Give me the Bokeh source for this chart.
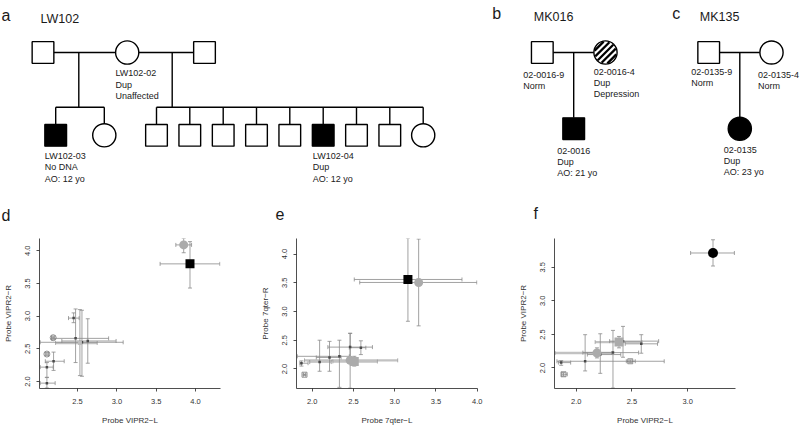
import math
from bokeh.plotting import figure
from bokeh.layouts import column, row
from bokeh.models import (Range1d, FixedTicker, PrintfTickFormatter, ColumnDataSource,
                          Whisker, TeeHead)
from bokeh.core.properties import value
from bokeh.embed import file_html
from bokeh.resources import INLINE

FONT = "Liberation Sans"

# ---------------- pedigree data (reference pixel coordinates) ----------------
ind_x = [42.5, 126.7, 204.0,
         55.2, 103.8,
         156.0, 189.3, 222.7, 256.0, 289.3, 322.7, 356.0, 389.3, 422.7,
         541.8, 605.0, 573.2,
         708.2, 771.0, 739.3]
ind_y = [52, 52, 52,
         134.8, 134.8,
         134.8, 134.8, 134.8, 134.8, 134.8, 134.8, 134.8, 134.8, 134.8,
         52, 52, 128.2,
         52, 52, 128.3]
ind_shape = ["square", "circle", "square",
             "square", "circle",
             "square", "square", "square", "square", "square", "square", "square", "square", "circle",
             "square", "circle", "square",
             "square", "circle", "circle"]
ind_fill = ["white", "white", "white",
            "black", "white",
            "white", "white", "white", "white", "white", "black", "white", "white", "white",
            "white", "hatch", "black",
            "white", "white", "black"]

# unions: (spouse1, spouse2, descent x, sibship y, children)
unions = [
    (0, 1, 78.3, 106.7, [3, 4]),
    (1, 2, 171.7, 106.7, [5, 6, 7, 8, 9, 10, 11, 12, 13]),
    (14, 15, 573.2, None, [16]),
    (17, 18, 739.3, None, [19]),
]

lbl_x = [115, 115, 115,
         44.3, 44.3, 44.3,
         312.3, 312.3, 312.3,
         522.7, 522.7,
         593.3, 593.3, 593.3,
         556.7, 556.7, 556.7,
         690.7, 690.7,
         757.5, 757.5,
         723.3, 723.3, 723.3]
lbl_y = [72.7, 84, 95,
         155.7, 166.7, 178.3,
         155.7, 166.7, 178.3,
         74, 85,
         71, 82.3, 93.3,
         150, 161.7, 172.7,
         71.7, 82.7,
         74, 85,
         149.3, 160.7, 171.7]
lbl_text = ["LW102-02", "Dup", "Unaffected",
            "LW102-03", "No DNA", "AO: 12 yo",
            "LW102-04", "Dup", "AO: 12 yo",
            "02-0016-9", "Norm",
            "02-0016-4", "Dup", "Depression",
            "02-0016", "Dup", "AO: 21 yo",
            "02-0135-9", "Norm",
            "02-0135-4", "Norm",
            "02-0135", "Dup", "AO: 23 yo"]

fam_x = [40, 533.3, 699.3]
fam_y = [18.3, 16.7, 16.7]
fam_text = ["LW102", "MK016", "MK135"]

letter_x = [1, 491.7, 671.7, 1, 275, 533]
letter_y = [15, 13.3, 13.3, 215, 213.3, 213.3]
letter_text = ["a", "b", "c", "d", "e", "f"]

SQ = 21.7      # square side
RAD = 11.6     # circle radius
LW = 1.4
TOP_H = 226

top = figure(width=800, height=TOP_H, x_range=Range1d(0, 800), y_range=Range1d(TOP_H, 0),
             output_backend="svg", toolbar_location=None, min_border=0,
             x_axis_location=None, y_axis_location=None)
top.xgrid.visible = False
top.ygrid.visible = False
top.outline_line_color = None

def half(i):
    return SQ / 2 if ind_shape[i] == "square" else RAD

# lines
sx0, sy0, sx1, sy1 = [], [], [], []
for a, b, dx, sib_y, kids in unions:
    left, right = (a, b) if ind_x[a] < ind_x[b] else (b, a)
    my = ind_y[a]
    sx0.append(ind_x[left] + half(left)); sx1.append(ind_x[right] - half(right))
    sy0.append(my); sy1.append(my)
    if sib_y is None:
        k = kids[0]
        sx0.append(dx); sx1.append(dx); sy0.append(my); sy1.append(ind_y[k] - half(k))
    else:
        sx0.append(dx); sx1.append(dx); sy0.append(my); sy1.append(sib_y)
        kx = [ind_x[k] for k in kids]
        sx0.append(min(kx)); sx1.append(max(kx)); sy0.append(sib_y); sy1.append(sib_y)
        for k in kids:
            sx0.append(ind_x[k]); sx1.append(ind_x[k]); sy0.append(sib_y); sy1.append(ind_y[k] - half(k))
top.segment(sx0, sy0, sx1, sy1, line_color="black", line_width=LW)

sq = [i for i in range(len(ind_x)) if ind_shape[i] == "square"]
ci = [i for i in range(len(ind_x)) if ind_shape[i] == "circle"]
top.rect([ind_x[i] for i in sq], [ind_y[i] for i in sq], width=SQ, height=SQ,
         fill_color=["black" if ind_fill[i] == "black" else "white" for i in sq],
         line_color="black", line_width=LW)
top.circle([ind_x[i] for i in ci], [ind_y[i] for i in ci], radius=RAD,
           fill_color=["black" if ind_fill[i] == "black" else "white" for i in ci],
           line_color="black", line_width=LW)

# hatching for striped circles
hx0, hy0, hx1, hy1 = [], [], [], []
for i in ci:
    if ind_fill[i] != "hatch":
        continue
    cx, cy = ind_x[i], ind_y[i]
    r = RAD - 0.6
    for s in (-9.0, -4.5, 0.0, 4.5, 9.0):
        if abs(s) >= r:
            continue
        h = math.sqrt(r * r - s * s)
        fx, fy = cx + s / math.sqrt(2), cy + s / math.sqrt(2)
        hx0.append(fx - h / math.sqrt(2)); hy0.append(fy + h / math.sqrt(2))
        hx1.append(fx + h / math.sqrt(2)); hy1.append(fy - h / math.sqrt(2))
top.segment(hx0, hy0, hx1, hy1, line_color="black", line_width=2.3)

top.text(lbl_x, lbl_y, text=lbl_text, text_font=value(FONT), text_font_size="9px",
         text_baseline="middle", text_align="left", text_color="#1a1a1a")
top.text(fam_x, fam_y, text=fam_text, text_font=value(FONT), text_font_size="12.5px",
         text_baseline="alphabetic", text_align="left", text_color="#1a1a1a")
top.text(letter_x, letter_y, text=letter_text, text_font=value(FONT), text_font_size="16px",
         text_baseline="alphabetic", text_align="left", text_color="#1a1a1a")

# ---------------- scatter data ----------------
# kinds: dot / osq / ocirc = ordinary samples; gcirc = gray circle (thin bars);
# gcircB / gsqB / gdotB = gray samples with broad horizontal bars; bsq / bcirc = probands
d_kind = ["gcirc", "bsq", "dot", "gdotB", "dot", "dot", "dot", "ocirc", "ocirc", "dot", "dot", "dot"]
d_x   = [3.85, 3.93, 2.45, 2.53, 2.556, 2.63, 2.475, 2.19, 2.11, 2.195, 2.11, 2.11]
d_y   = [4.09, 3.80, 2.97, 2.59, 2.60, 2.62, 2.66, 2.67, 2.42, 2.31, 2.22, 1.975]
d_xlo = [3.75, 3.55, 2.385, 2.22, 2.025, 2.30, 2.17, 2.17, 2.09, 2.09, 2.025, 2.025]
d_xhi = [3.95, 4.31, 2.52, 2.75, 3.08, 2.99, 2.895, 2.21, 2.13, 2.33, 2.19, 2.215]
d_ylo = [3.97, 3.43, 2.90, 2.09, 2.08, 2.28, 2.29, 2.645, 2.395, 2.17, 2.065, 1.90]
d_yhi = [4.19, 4.14, 3.05, 3.10, 3.09, 2.96, 3.11, 2.695, 2.445, 2.45, 2.29, 2.06]

e_kind = ["bsq", "gcirc", "gcircB", "gsqB", "dot", "dot", "dot", "dot", "dot", "osq", "dot"]
e_x   = [3.16, 3.29, 2.46, 2.51, 2.33, 2.09, 2.21, 2.46, 2.59, 1.907, 1.87]
e_y   = [3.557, 3.505, 2.15, 2.13, 2.22, 2.12, 2.20, 2.38, 2.37, 1.90, 2.10]
e_xlo = [2.51, 2.576, 1.907, 2.25, 1.82, 1.97, 2.05, 2.19, 2.45, 1.895, 1.85]
e_xhi = [3.815, 3.995, 3.036, 2.79, 2.45, 2.23, 2.35, 2.73, 2.65, 1.92, 1.95]
e_ylo = [2.83, 2.75, 1.665, 2.05, 1.68, 1.96, 1.96, 2.21, 2.25, 1.89, 2.05]
e_yhi = [4.276, 4.26, 2.62, 2.22, 2.50, 2.50, 2.48, 2.62, 2.49, 1.91, 2.14]

f_kind = ["bcirc", "gsqB", "gcircB", "dot", "dot", "dot", "osq", "osq", "dot", "dot", "dot"]
f_x   = [3.228, 2.384, 2.186, 2.33, 2.08, 2.584, 2.485, 1.886, 1.865, 2.216, 2.42]
f_y   = [3.714, 2.386, 2.223, 2.229, 2.10, 2.36, 2.10, 1.906, 2.08, 2.20, 2.40]
f_xlo = [3.027, 2.17, 1.81, 2.06, 1.827, 2.44, 2.45, 1.87, 1.84, 2.10, 2.30]
f_xhi = [3.42, 2.59, 2.32, 2.56, 2.79, 2.73, 2.53, 1.92, 1.95, 2.40, 2.74]
f_ylo = [3.52, 2.30, 2.15, 1.70, 1.956, 2.22, 2.08, 1.88, 2.04, 1.92, 2.16]
f_yhi = [3.911, 2.47, 2.30, 2.56, 2.496, 2.496, 2.12, 1.93, 2.11, 2.51, 2.62]

BROAD_KINDS = ("gcircB", "gsqB", "gdotB")
BOT_H = 427 - TOP_H

def sub(idx, *cols):
    return [[c[i] for i in idx] for c in cols]

def make_panel(width, bl, br, xr, yr, xt, yt, xlab, ylab,
               kind, x, y, xlo, xhi, ylo, yhi):
    p = figure(width=width, height=BOT_H, x_range=Range1d(*xr), y_range=Range1d(*yr),
               output_backend="svg", toolbar_location=None,
               min_border_left=bl, min_border_right=br, min_border_top=12, min_border_bottom=39)
    p.xgrid.visible = False
    p.ygrid.visible = False
    p.outline_line_color = None
    p.xaxis.ticker = FixedTicker(ticks=xt)
    p.yaxis.ticker = FixedTicker(ticks=yt)
    for ax in (p.xaxis[0], p.yaxis[0]):
        ax.formatter = PrintfTickFormatter(format="%.1f")
        ax.axis_line_color = "#222222"
        ax.axis_line_width = 0.8
        ax.major_tick_line_color = "#222222"
        ax.major_tick_line_width = 0.8
        ax.major_tick_in = 0
        ax.major_tick_out = 3
        ax.minor_tick_line_color = None
        ax.major_label_text_font = FONT
        ax.major_label_text_font_size = "7.5px"
        ax.major_label_text_color = "#333333"
        ax.axis_label_text_font = FONT
        ax.axis_label_text_font_size = "8px"
        ax.axis_label_text_font_style = "normal"
        ax.axis_label_text_color = "#333333"
    p.xaxis.axis_label = xlab
    p.yaxis.axis_label = ylab
    p.xaxis.major_label_standoff = 7
    p.xaxis.axis_label_standoff = 9
    p.yaxis.major_label_standoff = 6
    p.yaxis.axis_label_standoff = 10
    p.yaxis.major_label_orientation = "vertical"

    n = len(x)
    broad = [i for i in range(n) if kind[i] in BROAD_KINDS]
    allidx = list(range(n))
    thin_h = [i for i in range(n) if kind[i] not in BROAD_KINDS]

    def head(col, lw):
        return TeeHead(size=4, line_color=col, line_width=lw)

    gx, gy, gxlo, gxhi = sub(broad, x, y, xlo, xhi)
    gsrc = ColumnDataSource(dict(x=gx, y=gy, xlo=gxlo, xhi=gxhi))
    p.add_layout(Whisker(source=gsrc, base="y", lower="xlo", upper="xhi", dimension="width",
                         line_color="#c2c2c2", line_width=2.4, level="underlay",
                         upper_head=head("#9a9a9a", 0.8), lower_head=head("#9a9a9a", 0.8)))

    hx, hy, hxlo, hxhi = sub(thin_h, x, y, xlo, xhi)
    hsrc = ColumnDataSource(dict(x=hx, y=hy, xlo=hxlo, xhi=hxhi))
    p.add_layout(Whisker(source=hsrc, base="y", lower="xlo", upper="xhi", dimension="width",
                         line_color="#8a8a8a", line_width=0.8, level="underlay",
                         upper_head=head("#8a8a8a", 0.8), lower_head=head("#8a8a8a", 0.8)))
    vx, vy, vylo, vyhi = sub(allidx, x, y, ylo, yhi)
    vsrc = ColumnDataSource(dict(x=vx, y=vy, ylo=vylo, yhi=vyhi))
    p.add_layout(Whisker(source=vsrc, base="x", lower="ylo", upper="yhi", dimension="height",
                         line_color="#8a8a8a", line_width=0.8, level="underlay",
                         upper_head=head("#8a8a8a", 0.8), lower_head=head("#8a8a8a", 0.8)))

    styles = {
        "dot":    dict(marker="square", size=2.5, fill_color="#4a4a4a", line_color=None),
        "osq":    dict(marker="square", size=5, fill_color=None, line_color="#777777", line_width=0.8),
        "ocirc":  dict(marker="circle", size=6, fill_color=None, line_color="#777777", line_width=0.8),
        "gdotB":  dict(marker="square", size=4, fill_color="#bdbdbd", line_color=None),
        "gcirc":  dict(marker="circle", size=9, fill_color="#ababab", line_color=None),
        "gcircB": dict(marker="circle", size=9, fill_color="#ababab", line_color=None),
        "gsqB":   dict(marker="square", size=9, fill_color="#ababab", line_color=None),
        "bsq":    dict(marker="square", size=9, fill_color="black", line_color=None),
        "bcirc":  dict(marker="circle", size=10, fill_color="black", line_color=None),
    }
    for k in ["dot", "osq", "ocirc", "gdotB", "gcirc", "gcircB", "gsqB", "bsq", "bcirc"]:
        idx = [i for i in range(n) if kind[i] == k]
        if not idx:
            continue
        kx, ky = sub(idx, x, y)
        p.scatter(kx, ky, **styles[k])
    return p

pd = make_panel(255, 39, 35, (2.016, 4.318), (1.893, 4.188),
                [2.5, 3.0, 3.5, 4.0], [2.0, 2.5, 3.0, 3.5, 4.0],
                "Probe VIPR2\u2212L", "Probe VIPR2\u2212R",
                d_kind, d_x, d_y, d_xlo, d_xhi, d_ylo, d_yhi)
pe = make_panel(257, 41, 35, (1.81, 4.003), (1.66, 4.27),
                [2.0, 2.5, 3.0, 3.5, 4.0], [2.0, 2.5, 3.0, 3.5, 4.0],
                "Probe 7qter\u2212L", "Probe 7qter\u2212R",
                e_kind, e_x, e_y, e_xlo, e_xhi, e_ylo, e_yhi)
pf = make_panel(288, 42, 65, (1.805, 3.43), (1.694, 3.93),
                [2.0, 2.5, 3.0], [2.0, 2.5, 3.0, 3.5],
                "Probe VIPR2\u2212L", "Probe VIPR2\u2212R",
                f_kind, f_x, f_y, f_xlo, f_xhi, f_ylo, f_yhi)

layout = column(top, row(pd, pe, pf, spacing=0), spacing=0)
open("out.html", "w").write(file_html(layout, INLINE))
